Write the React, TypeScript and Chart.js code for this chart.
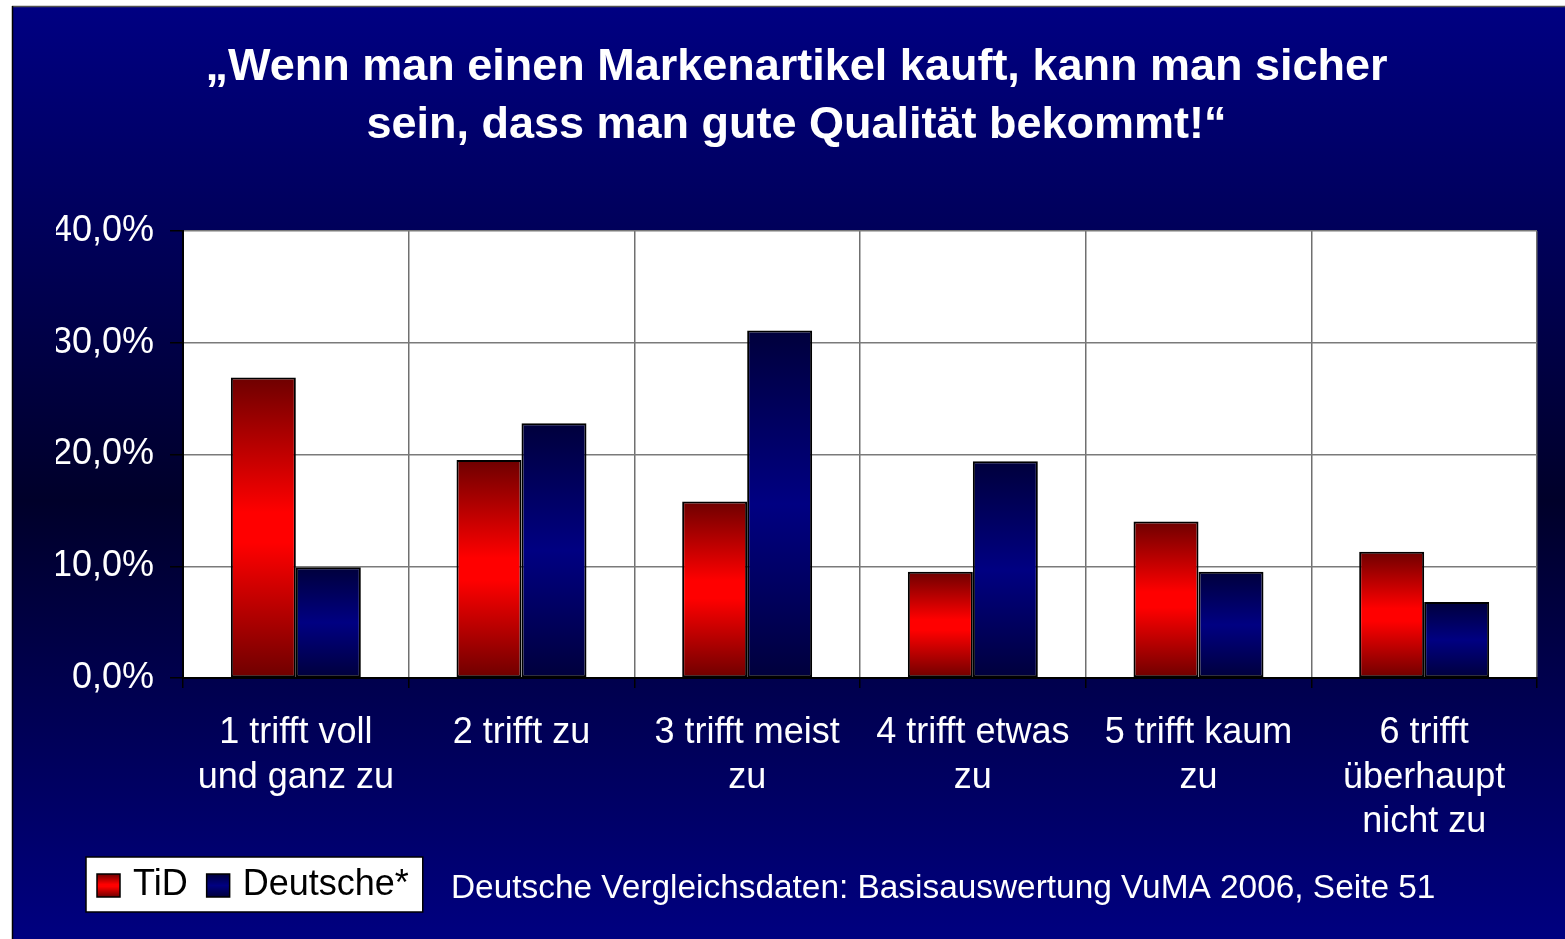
import React, { useEffect, useRef } from 'react';
import { Chart, registerables } from 'chart.js';

Chart.register(...registerables);

const categories: string[][] = [
  ['1 trifft voll', 'und ganz zu'],
  ['2 trifft zu'],
  ['3 trifft meist', 'zu'],
  ['4 trifft etwas', 'zu'],
  ['5 trifft kaum', 'zu'],
  ['6 trifft', 'überhaupt', 'nicht zu'],
];
const tidValues = [26.9, 19.5, 15.8, 9.5, 14.0, 11.3];
const deutscheValues = [9.9, 22.8, 31.1, 19.4, 9.5, 6.8];
const seriesLabels = ['TiD', 'Deutsche*'];
const titleLines = [
  '\u201EWenn man einen Markenartikel kauft, kann man sicher',
  'sein, dass man gute Qualit\u00E4t bekommt!\u201C',
];
const sourceNote = 'Deutsche Vergleichsdaten: Basisauswertung VuMA 2006, Seite 51';
const yMin = 0;
const yMax = 40;
const yStep = 10;

const FONT = '"Liberation Sans", Arial, Helvetica, sans-serif';
const W = 1565;
const H = 939;

const redStops: [number, string][] = [
  [0, '#6e0000'],
  [0.45, '#ff0000'],
  [0.55, '#ff0000'],
  [1, '#6e0000'],
];
const blueStops: [number, string][] = [
  [0, '#00003c'],
  [0.5, '#000082'],
  [1, '#00003c'],
];

function makeGradient(ctx: CanvasRenderingContext2D, top: number, bottom: number, stops: [number, string][]) {
  const g = ctx.createLinearGradient(0, top, 0, bottom);
  stops.forEach(([o, c]) => g.addColorStop(o, c));
  return g;
}

function barFill(stops: [number, string][], fallback: string) {
  return (c: any) => {
    if (c.type !== 'data') return fallback;
    const chart = c.chart;
    const ys = chart.scales && chart.scales.y;
    if (!ys) return fallback;
    const top = ys.getPixelForValue(c.raw);
    const base = ys.getPixelForValue(0);
    if (!isFinite(top) || !isFinite(base) || Math.abs(base - top) < 1) return fallback;
    return makeGradient(chart.ctx, top, base, stops);
  };
}

const backgroundPlugin = {
  id: 'slideBackground',
  beforeDraw(chart: any) {
    const ctx: CanvasRenderingContext2D = chart.ctx;
    ctx.save();
    ctx.fillStyle = '#ffffff';
    ctx.fillRect(0, 0, W, H);
    const g = ctx.createLinearGradient(0, 6, 0, H);
    g.addColorStop(0, '#000082');
    g.addColorStop(0.53, '#00002a');
    g.addColorStop(1, '#000080');
    ctx.fillStyle = g;
    ctx.fillRect(12, 6, W - 12, H - 6);
    ctx.strokeStyle = '#505050';
    ctx.lineWidth = 1.5;
    ctx.beginPath();
    ctx.moveTo(12, 6.5);
    ctx.lineTo(W, 6.5);
    ctx.stroke();
    ctx.strokeStyle = '#000000';
    ctx.beginPath();
    ctx.moveTo(12.5, 6);
    ctx.lineTo(12.5, H);
    ctx.stroke();
    const a = chart.chartArea;
    ctx.fillStyle = '#ffffff';
    ctx.fillRect(a.left, a.top, a.right - a.left, a.bottom - a.top);
    ctx.restore();
  },
};

const legendNotePlugin = {
  id: 'legendNote',
  afterDraw(chart: any) {
    const ctx: CanvasRenderingContext2D = chart.ctx;
    ctx.save();
    const boxLeft = 86;
    const boxTop = 857;
    const boxH = 55;
    const sq = 23;
    const midY = boxTop + boxH / 2;
    ctx.font = `36px ${FONT}`;
    const items = chart.data.datasets.map((d: any, i: number) => ({
      label: d.label as string,
      stops: i === 0 ? redStops : blueStops,
    }));
    let x = boxLeft + 11;
    const layout: { sqX: number; textX: number; w: number }[] = [];
    items.forEach((it: any) => {
      const w = ctx.measureText(it.label).width;
      layout.push({ sqX: x, textX: x + sq + 13, w });
      x = x + sq + 13 + w + 19;
    });
    const last = layout[layout.length - 1];
    const boxRight = last.textX + last.w + 14;
    ctx.fillStyle = '#ffffff';
    ctx.fillRect(boxLeft, boxTop, boxRight - boxLeft, boxH);
    ctx.strokeStyle = '#000000';
    ctx.lineWidth = 1.5;
    ctx.strokeRect(boxLeft, boxTop, boxRight - boxLeft, boxH);
    items.forEach((it: any, i: number) => {
      const l = layout[i];
      const sqTop = midY - sq / 2 + 1;
      ctx.fillStyle = makeGradient(ctx, sqTop, sqTop + sq, it.stops);
      ctx.fillRect(l.sqX, sqTop, sq, sq);
      ctx.strokeStyle = '#000000';
      ctx.lineWidth = 1.5;
      ctx.strokeRect(l.sqX, sqTop, sq, sq);
      ctx.fillStyle = '#000000';
      ctx.textAlign = 'left';
      ctx.textBaseline = 'middle';
      ctx.fillText(it.label, l.textX, midY + 1);
    });
    ctx.font = `33.4px ${FONT}`;
    ctx.fillStyle = '#ffffff';
    ctx.textAlign = 'left';
    ctx.textBaseline = 'middle';
    ctx.fillText(sourceNote, 451, 889);
    ctx.restore();
  },
};

export default function App() {
  const canvasRef = useRef<HTMLCanvasElement | null>(null);

  useEffect(() => {
    const canvas = canvasRef.current;
    if (!canvas) return;
    const chart = new Chart(canvas, {
      type: 'bar',
      data: {
        labels: categories,
        datasets: [
          {
            label: seriesLabels[0],
            data: tidValues,
            backgroundColor: barFill(redStops, '#ff0000'),
            borderColor: '#000000',
            borderWidth: 2,
            borderSkipped: false,
            barPercentage: 1,
            categoryPercentage: 0.576,
          },
          {
            label: seriesLabels[1],
            data: deutscheValues,
            backgroundColor: barFill(blueStops, '#000080'),
            borderColor: '#000000',
            borderWidth: 2,
            borderSkipped: false,
            barPercentage: 1,
            categoryPercentage: 0.576,
          },
        ],
      },
      options: {
        responsive: false,
        animation: false,
        devicePixelRatio: 1,
        layout: { padding: { left: 56, right: 28, top: 0, bottom: 0 } },
        plugins: {
          legend: { display: false },
          tooltip: { enabled: false },
          title: {
            display: true,
            text: titleLines,
            color: '#ffffff',
            align: 'center',
            font: { family: FONT, size: 45, weight: 'bold', lineHeight: '58.5px' },
            padding: { top: 38, bottom: 76 },
          },
        },
        scales: {
          x: {
            offset: true,
            grid: {
              display: true,
              offset: true,
              color: '#707070',
              lineWidth: 1.5,
              tickColor: '#000000',
              tickLength: 10,
              drawTicks: true,
            },
            border: { display: true, color: '#000000', width: 2 },
            ticks: {
              color: '#ffffff',
              font: { family: FONT, size: 36, lineHeight: 1.242 },
              padding: 22.6,
              maxRotation: 0,
              minRotation: 0,
              autoSkip: false,
            },
            afterFit(scale: any) {
              scale.height = H - 678;
            },
          },
          y: {
            min: yMin,
            max: yMax,
            grid: {
              color: '#7a7a7a',
              lineWidth: 1.5,
              tickColor: '#000000',
              tickLength: 13,
            },
            border: { display: true, color: '#000000', width: 2 },
            ticks: {
              stepSize: yStep,
              color: '#ffffff',
              font: { family: FONT, size: 36 },
              padding: 16,
              callback: (v: any) => Number(v).toFixed(1).replace('.', ',') + '%',
            },
            afterFit(scale: any) {
              scale.width = 183 - 56;
            },
          },
        },
      } as any,
      plugins: [backgroundPlugin, legendNotePlugin],
    });
    return () => chart.destroy();
  }, []);

  return (
    <div style={{ position: 'absolute', left: 0, top: 0, width: W, height: H, overflow: 'hidden' }}>
      <canvas ref={canvasRef} width={W} height={H} style={{ display: 'block', width: W, height: H }} />
    </div>
  );
}
